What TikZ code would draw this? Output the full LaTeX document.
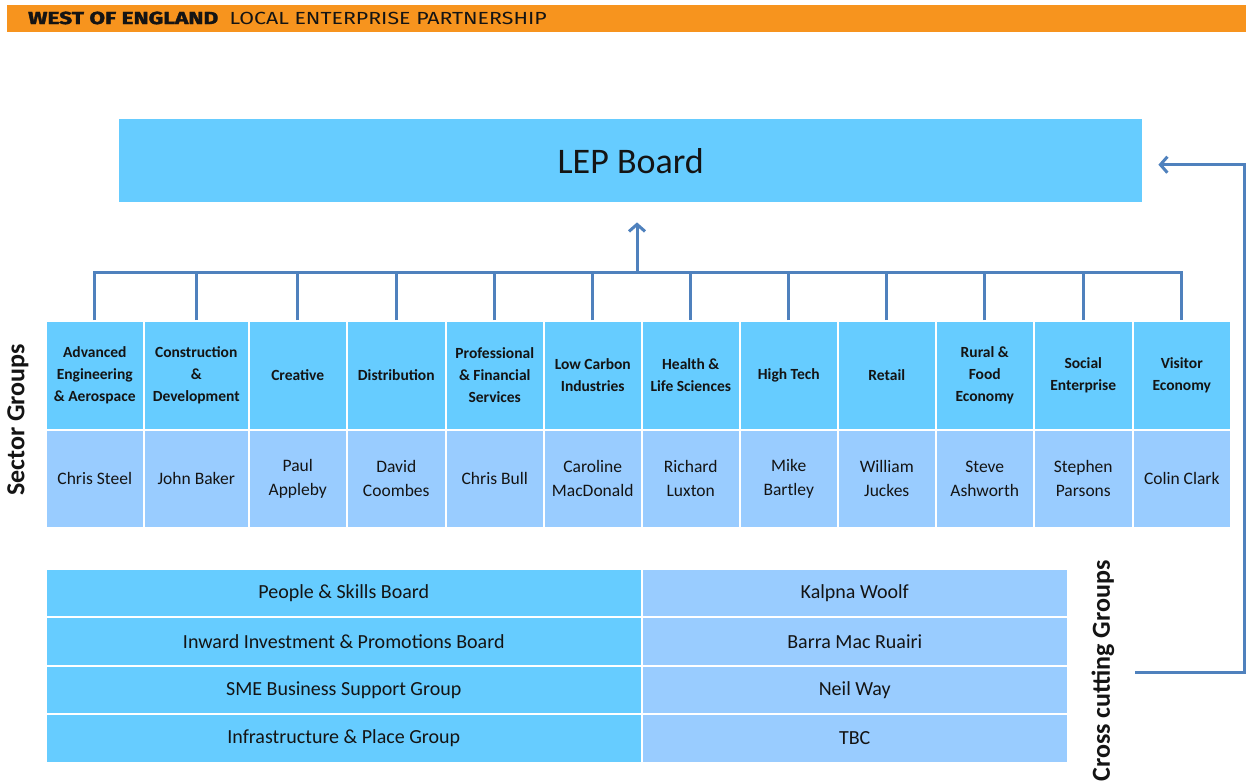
\documentclass[tikz,border=0pt]{standalone}
\usepackage{fontspec}
\setmainfont{Carlito}
\newfontfamily\headfont[FakeStretch=1.22, BoldFeatures={FakeStretch=1.3,FakeBold=2}]{Fira Sans}
\usetikzlibrary{arrows.meta,positioning}
\definecolor{hdr}{RGB}{247,148,30}
\definecolor{topc}{RGB}{102,204,255}
\definecolor{namec}{RGB}{153,204,255}
\definecolor{linec}{RGB}{79,129,189}
\definecolor{txt}{RGB}{20,20,20}
\tikzset{
  cell/.style={draw=white, line width=1.5pt, inner sep=0pt, align=center, text=txt},
  sectorcell/.style={cell, fill=topc, minimum height=109pt, font=\bfseries\fontsize{15.5}{22}\selectfont},
  namecell/.style={cell, fill=namec, minimum height=98pt, font=\fontsize{17.5}{24}\selectfont},
  ccleft/.style={cell, fill=topc, minimum width=596pt, minimum height=49pt, font=\fontsize{20}{24}\selectfont},
  ccright/.style={cell, fill=namec, minimum width=426pt, minimum height=49pt, font=\fontsize{20}{24}\selectfont},
  conn/.style={draw=linec, line width=3pt},
  tip/.style={-{Straight Barb[length=7pt,width=16pt,line width=3pt]}},
  sidelabel/.style={rotate=90, font=\bfseries\fontsize{26}{28}\selectfont, text=txt, inner sep=0pt}
}
\begin{document}
\begin{tikzpicture}[x=1pt,y=-1pt]
\useasboundingbox (0,0) rectangle (1246,781);
\fill[white] (0,0) rectangle (1246,781);
% header
\node[fill=hdr, minimum width=1239pt, minimum height=27pt, inner sep=0pt, anchor=north west] (hdr) at (7,5) {};
\node[anchor=west, inner sep=0pt, font=\headfont\fontsize{17.5}{20}\selectfont, text=txt] (hdrtext) at (28,18)
  {{\bfseries WEST OF ENGLAND}\ \ LOCAL ENTERPRISE PARTNERSHIP};
% LEP board
\node[fill=topc, minimum width=1023pt, minimum height=83pt, inner sep=0pt, anchor=north west,
      font=\fontsize{36}{40}\selectfont, text=txt] (lep) at (119,119) {LEP Board};
% sector groups
\foreach \i/\x/\w/\s/\n in {
  1/45/98/{Advanced\\Engineering\\\& Aerospace}/{Chris Steel},
  2/143/105/{Construction\\\&\\Development}/{John Baker},
  3/248/98/{Creative}/{Paul\\Appleby},
  4/346/99/{Distribution}/{David\\Coombes},
  5/445/98/{Professional\\\& Financial\\Services}/{Chris Bull},
  6/543/98/{Low Carbon\\Industries}/{Caroline\\MacDonald},
  7/641/98/{Health \&\\Life Sciences}/{Richard\\Luxton},
  8/739/98/{High Tech}/{Mike\\Bartley},
  9/837/98/{Retail}/{William\\Juckes},
  10/935/98/{Rural \&\\Food\\Economy}/{Steve\\Ashworth},
  11/1033/99/{Social\\Enterprise}/{Stephen\\Parsons},
  12/1132/98/{Visitor\\Economy}/{Colin Clark}}{
  \node[sectorcell, minimum width=\w pt, anchor=north west] (s\i) at (\x,320) {\s};
  \node[namecell, minimum width=\w pt, anchor=north west] (n\i) at (\x,429) {\n};
}
\node[sidelabel] (sg) at (18,420) {Sector Groups};
% bus connectors
\coordinate (bus) at (637,272);
\coordinate (lepb) at ([yshift=-20pt]lep.south);
\draw[conn] (s1.north) |- (bus) -| (s12.north);
\foreach \i in {2,...,11}{
  \draw[conn] (s\i.north) -- (s\i.north |- bus);
}
\draw[conn, tip] (bus) -- (bus |- lepb);
% cross cutting groups
\foreach \i/\y/\l/\r in {
  1/568/{People \& Skills Board}/{Kalpna Woolf},
  2/616/{Inward Investment \& Promotions Board}/{Barra Mac Ruairi},
  3/665/{SME Business Support Group}/{Neil Way},
  4/713/{Infrastructure \& Place Group}/{TBC}}{
  \node[ccleft, anchor=north west] (cl\i) at (45,\y) {\l};
  \node[ccright, anchor=north west] (cr\i) at (641,\y) {\r};
}
\node[sidelabel] (cc) at (1103,671) {Cross cutting Groups};
\coordinate (fb) at (1135,672);
\coordinate (fbtip) at ([xshift=16pt,yshift=-4pt]lep.east);
\draw[conn, tip] (fb) -- (1244,672) |- (fbtip);
\end{tikzpicture}
\end{document}
